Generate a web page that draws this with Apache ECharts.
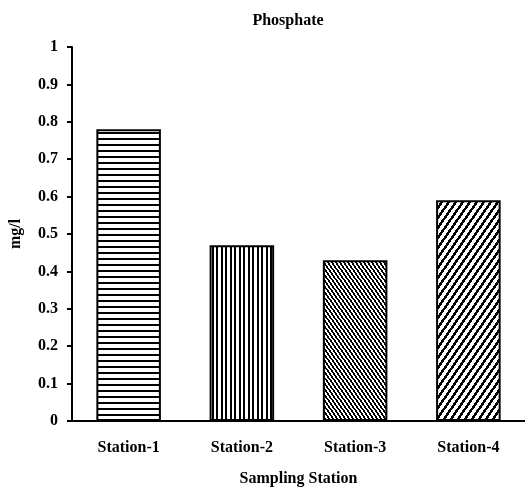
<!DOCTYPE html>
<html>
<head>
<meta charset="utf-8">
<script src="https://cdn.jsdelivr.net/npm/echarts@6/dist/echarts.min.js"></script>
<style>
  html, body { margin: 0; padding: 0; background: #fff; }
  #chart { width: 525px; height: 492px; }
</style>
</head>
<body>
<div id="chart"></div>
<script>
// Phosphate concentration per sampling station
var stations = ['Station-1', 'Station-2', 'Station-3', 'Station-4'];
var phosphate = [0.78, 0.47, 0.43, 0.59];
var yTicks = [0, 0.1, 0.2, 0.3, 0.4, 0.5, 0.6, 0.7, 0.8, 0.9, 1];

var FONT = '"Liberation Serif", "Times New Roman", serif';

// Build a repeating black/white tile; test(x, y) says whether a pixel is ink.
function makeTile(w, h, test) {
  var c = document.createElement('canvas');
  c.width = w; c.height = h;
  var ctx = c.getContext('2d');
  var img = ctx.createImageData(w, h);
  for (var y = 0; y < h; y++) {
    for (var x = 0; x < w; x++) {
      var v = test(x, y) ? 0 : 255;
      var i = (y * w + x) * 4;
      img.data[i] = v; img.data[i + 1] = v; img.data[i + 2] = v; img.data[i + 3] = 255;
    }
  }
  ctx.putImageData(img, 0, 0);
  return c;
}
function mod(a, n) { return ((a % n) + n) % n; }

var hLines = makeTile(4, 6, function (x, y) { return y < 2; });
var vLines = makeTile(9, 4, function (x, y) { return x < 2 || (x >= 5 && x < 7); });
var backDiag = makeTile(4, 40, function (x, y) { return mod(x - Math.floor(y * 0.7), 4) < 2; });
var fwdDiag = makeTile(7, 10, function (x, y) { return mod(x + Math.floor(y * 0.7), 7) < 3; });
var fills = [hLines, vLines, backDiag, fwdDiag];

var chart = echarts.init(document.getElementById('chart'), null, { renderer: 'canvas' });

chart.setOption({
  backgroundColor: '#fff',
  animation: false,
  title: {
    text: 'Phosphate',
    left: 283,
    top: 8,
    textAlign: 'center',
    textStyle: { fontFamily: FONT, fontWeight: 'bold', fontSize: 16, color: '#000' }
  },
  grid: { left: 71, top: 47, width: 456, height: 374, containLabel: false },
  xAxis: {
    type: 'category',
    data: stations,
    name: 'Sampling Station',
    nameLocation: 'middle',
    nameGap: 50,
    nameTextStyle: { fontFamily: FONT, fontWeight: 'bold', fontSize: 16, color: '#000' },
    axisLine: { lineStyle: { color: '#000', width: 2 } },
    axisTick: { show: false },
    axisLabel: { fontFamily: FONT, fontWeight: 'bold', fontSize: 16, color: '#000', margin: 19 }
  },
  yAxis: {
    type: 'value',
    min: yTicks[0],
    max: yTicks[yTicks.length - 1],
    interval: 0.1,
    name: 'mg/l',
    nameLocation: 'middle',
    nameGap: 48,
    nameTextStyle: { fontFamily: FONT, fontWeight: 'bold', fontSize: 16, color: '#000' },
    axisLine: { show: true, lineStyle: { color: '#000', width: 2 } },
    axisTick: { show: true, inside: false, length: 5, lineStyle: { color: '#000', width: 2 } },
    splitLine: { show: false },
    axisLabel: {
      fontFamily: FONT, fontWeight: 'bold', fontSize: 16, color: '#000', margin: 14,
      formatter: function (v) { return String(Math.round(v * 10) / 10); }
    }
  },
  series: [{
    type: 'bar',
    barWidth: '57%',
    data: phosphate.map(function (v, i) {
      return {
        value: v,
        itemStyle: {
          color: { image: fills[i], repeat: 'repeat' },
          borderColor: '#000',
          borderWidth: 2
        }
      };
    })
  }]
});
</script>
</body>
</html>
